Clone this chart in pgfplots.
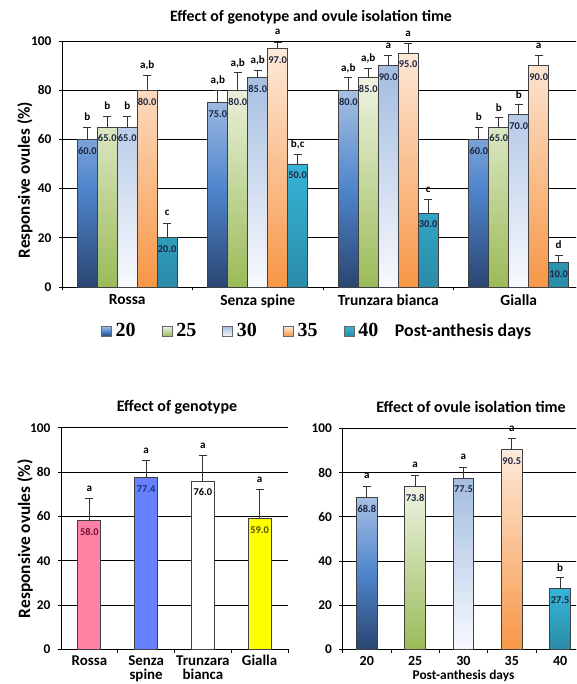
\documentclass[border=0pt]{standalone}
\usepackage{fontspec}
\setmainfont{Carlito}
\newfontfamily\tnr{Liberation Serif}
\usepackage{pgfplots}
\usepackage{pgfplotstable}
\pgfplotsset{compat=1.18}

% bar shadings (top / middle / bottom)
\definecolor{b20t}{HTML}{A6C0E4}
\definecolor{b20m}{HTML}{4F85CC}
\definecolor{b20b}{HTML}{2A4571}
\definecolor{g25t}{HTML}{EEF3E2}
\definecolor{g25b}{HTML}{9BBB59}
\definecolor{l30t}{HTML}{A3BCE0}
\definecolor{l30b}{HTML}{F7F9FD}
\definecolor{o35t}{HTML}{FDEADA}
\definecolor{o35b}{HTML}{F79646}
\definecolor{t40t}{HTML}{36B4D6}
\definecolor{t40b}{HTML}{2A8CA8}
% legend squares
\definecolor{b20l}{HTML}{4F81BD}
\definecolor{g25l}{HTML}{C4D79B}
\definecolor{l30l}{HTML}{C5D4EB}
\definecolor{o35l}{HTML}{FAC090}
\definecolor{t40l}{HTML}{31A8CC}
% genotype bars
\definecolor{rossa}{HTML}{FF80A2}
\definecolor{senza}{HTML}{6680FF}
\definecolor{gialla}{HTML}{FFFF00}
\definecolor{vtxt}{HTML}{1C2541}
\definecolor{vros}{HTML}{6B1535}
\definecolor{vsen}{HTML}{18307A}
\definecolor{vgia}{HTML}{505000}

% genotype x isolation time: x y error letters
\pgfplotstableread{
x      y  e   lab
-0.306 60 5   b
0.694  75 5   a,b
1.694  80 5   a,b
2.694  60 5   b
}\tA
\pgfplotstableread{
x      y  e   lab
-0.153 65 4.5 b
0.847  80 7   a,b
1.847  85 4   a,b
2.847  65 4   b
}\tB
\pgfplotstableread{
x      y  e   lab
0      65 4.5 b
1      85 3   a,b
2      90 4   a
3      70 4   b
}\tC
\pgfplotstableread{
x      y  e   lab
0.153  80 6   a,b
1.153  97 2.5 a
2.153  95 4   a
3.153  90 4   a
}\tD
\pgfplotstableread{
x      y  e   lab
0.306  20 6   c
1.306  50 4   b,c
2.306  30 5.5 c
3.306  10 3   d
}\tE
% effect of genotype
\pgfplotstableread{
x y    e    lab
0 58.0 10   a
1 77.4 7.7  a
2 76.0 11.5 a
3 59.0 13   a
}\tG
% effect of isolation time
\pgfplotstableread{
x y    e   lab
0 68.8 5   a
1 73.8 5   a
2 77.5 5   a
3 90.5 4.7 a
4 27.5 5   b
}\tT

\pgfplotsset{
  myaxis/.style={
    scale only axis, anchor=south west,
    ymin=0, ymax=100, ytick={0,20,...,100},
    ymajorgrids, grid style={black, line width=0.6pt},
    axis x line*=bottom, axis y line*=left,
    axis line style={black, line width=0.7pt},
    tick align=outside, major tick length=2.5pt,
    tick style={black, line width=0.6pt},
    /pgf/number format/assume math mode=true,
    tick label style={font=\bfseries\fontsize{10}{12}\selectfont},
    yticklabel style={xshift=-2pt},
    xticklabels={},
    xticklabel style={yshift=-2pt},
    extra x tick style={grid=none, major tick length=0pt},
    clip=false,
  },
  bars/.style={ybar, bar shift=0pt, bar width=#1, draw=black!75, line width=0.6pt,
    error bars/y dir=plus, error bars/y explicit,
    error bars/error bar style={black!80, line width=0.75pt},
    error bars/error mark options={rotate=90, mark size=3pt, black!80, line width=0.75pt}},
  vals/.style={nodes near coords={\pgfmathprintnumber[fixed,fixed zerofill,precision=1]{\pgfplotspointmeta}},
    every node near coord/.append style={anchor=center, yshift=-8.5pt,
      font=\bfseries\fontsize{7.8}{8}\selectfont, text=#1}},
  lets/.style={only marks, mark=none, forget plot, point meta=explicit symbolic,
    nodes near coords,
    every node near coord/.append style={anchor=center, yshift=7.5pt,
      font=\bfseries\fontsize{8.3}{9}\selectfont, text=black}},
  sq/.style={legend image code/.code={\draw[fill=#1, draw=black!60, line width=0.5pt] (0pt,-3.75pt) rectangle (7.5pt,3.75pt);}},
}

\begin{document}
\begin{tikzpicture}
\useasboundingbox (0,0) rectangle (432pt,513pt);
\clip (0,0) rectangle (432pt,513pt);

\node[font=\bfseries\fontsize{11.9}{13}\selectfont] at (233.25pt,500pt) {Effect of genotype and ovule isolation time};
\node[font=\bfseries\fontsize{12}{13}\selectfont] at (132.75pt,207.5pt) {Effect of genotype};
\node[font=\bfseries\fontsize{12}{13}\selectfont] at (353.25pt,207.5pt) {Effect of ovule isolation time};

% top: genotype x isolation time
\begin{axis}[myaxis, at={(46.5pt,297.75pt)}, width=391.5pt, height=184.5pt,
  xmin=-0.5, xmax=3.5, xtick={-0.5,0.5,1.5,2.5},
  extra x ticks={0,1,2,3},
  extra x tick labels={Rossa,Senza spine,Trunzara bianca,Gialla},
  xticklabel style={font=\bfseries\fontsize{11.6}{13}\selectfont},
  ylabel={Responsive ovules (\%)},
  ylabel style={at={(axis description cs:-0.071,0.435)}, anchor=center,
    font=\bfseries\fontsize{12.8}{14}\selectfont},
  legend style={draw=none, fill=none, at={(rel axis cs:0.0747,-0.18)}, anchor=west,
    inner sep=0pt, outer sep=0pt, legend columns=6,
    font=\tnr\bfseries\fontsize{15}{15}\selectfont,
    nodes={inner sep=0pt, outer sep=0pt},
    /tikz/every odd column/.append style={column sep=3pt},
    /tikz/every even column/.append style={column sep=19.5pt}},
]
\addplot[bars=0.153, top color=b20t, bottom color=b20b, middle color=b20m, vals=vtxt, sq=b20l]
  table[x=x, y=y, y error=e] {\tA};
\addlegendentry{20}
\addplot[lets] table[x=x, y expr=\thisrow{y}+\thisrow{e}, meta=lab] {\tA};
\addplot[bars=0.153, top color=g25t, bottom color=g25b, vals=vtxt, sq=g25l]
  table[x=x, y=y, y error=e] {\tB};
\addlegendentry{25}
\addplot[lets] table[x=x, y expr=\thisrow{y}+\thisrow{e}, meta=lab] {\tB};
\addplot[bars=0.153, top color=l30t, bottom color=l30b, vals=vtxt, sq=l30l]
  table[x=x, y=y, y error=e] {\tC};
\addlegendentry{30}
\addplot[lets] table[x=x, y expr=\thisrow{y}+\thisrow{e}, meta=lab] {\tC};
\addplot[bars=0.153, top color=o35t, bottom color=o35b, vals=vtxt, sq=o35l]
  table[x=x, y=y, y error=e] {\tD};
\addlegendentry{35}
\addplot[lets] table[x=x, y expr=\thisrow{y}+\thisrow{e}, meta=lab] {\tD};
\addplot[bars=0.153, top color=t40t, bottom color=t40b, vals=vtxt, sq=t40l]
  table[x=x, y=y, y error=e] {\tE};
\addlegendentry{40}
\addplot[lets] table[x=x, y expr=\thisrow{y}+\thisrow{e}, meta=lab] {\tE};
\addlegendimage{empty legend}
\addlegendentry{\hspace*{-10pt}\normalfont\bfseries\fontsize{13.4}{13.4}\selectfont Post-anthesis days}
\end{axis}

% bottom left: effect of genotype
\begin{axis}[myaxis, at={(45.75pt,26pt)}, width=170.25pt, height=166.2pt,
  xmin=-0.5, xmax=3.5, xtick={0.5,1.5,2.5,3.5},
  extra x ticks={0,1,2,3},
  extra x tick labels={Rossa,{Senza\\spine},{Trunzara\\bianca},Gialla},
  xticklabel style={align=center, yshift=1pt, font=\bfseries\fontsize{11.2}{11}\selectfont},
  ylabel={Responsive ovules (\%)},
  ylabel style={at={(axis description cs:-0.1586,0.5)}, anchor=center,
    font=\bfseries\fontsize{13}{14}\selectfont},
]
\addplot[bars=0.405, fill=rossa, vals=vros, restrict expr to domain={\coordindex}{0:0}]
  table[x=x, y=y, y error=e] {\tG};
\addplot[bars=0.405, fill=senza, vals=vsen, restrict expr to domain={\coordindex}{1:1}]
  table[x=x, y=y, y error=e] {\tG};
\addplot[bars=0.405, fill=white, vals=black, restrict expr to domain={\coordindex}{2:2}]
  table[x=x, y=y, y error=e] {\tG};
\addplot[bars=0.405, fill=gialla, vals=vgia, restrict expr to domain={\coordindex}{3:3}]
  table[x=x, y=y, y error=e] {\tG};
\addplot[lets] table[x=x, y expr=\thisrow{y}+\thisrow{e}, meta=lab] {\tG};
\end{axis}

% bottom right: effect of isolation time
\begin{axis}[myaxis, at={(257pt,26pt)}, width=181.2pt, height=165.75pt,
  xmin=-0.5, xmax=4.5, xtick={-0.5,0.5,1.5,2.5,3.5},
  extra x ticks={0,1,2,3,4},
  extra x tick labels={20,25,30,35,40},
  xticklabel style={font=\bfseries\fontsize{10.5}{12}\selectfont},
  xlabel={Post-anthesis days},
  xlabel style={at={(axis description cs:0.5,-0.118)}, anchor=center,
    font=\bfseries\fontsize{10}{11}\selectfont},
]
\addplot[bars=0.43, top color=b20t, bottom color=b20b, middle color=b20m, vals=vtxt,
  restrict expr to domain={\coordindex}{0:0}] table[x=x, y=y, y error=e] {\tT};
\addplot[bars=0.43, top color=g25t, bottom color=g25b, vals=vtxt,
  restrict expr to domain={\coordindex}{1:1}] table[x=x, y=y, y error=e] {\tT};
\addplot[bars=0.43, top color=l30t, bottom color=l30b, vals=vtxt,
  restrict expr to domain={\coordindex}{2:2}] table[x=x, y=y, y error=e] {\tT};
\addplot[bars=0.43, top color=o35t, bottom color=o35b, vals=vtxt,
  restrict expr to domain={\coordindex}{3:3}] table[x=x, y=y, y error=e] {\tT};
\addplot[bars=0.43, top color=t40t, bottom color=t40b, vals=vtxt,
  restrict expr to domain={\coordindex}{4:4}] table[x=x, y=y, y error=e] {\tT};
\addplot[lets] table[x=x, y expr=\thisrow{y}+\thisrow{e}, meta=lab] {\tT};
\end{axis}
\end{tikzpicture}
\end{document}
